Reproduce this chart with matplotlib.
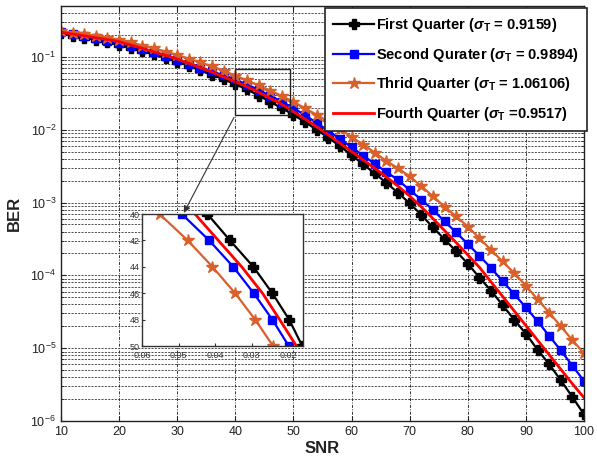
import matplotlib
matplotlib.use("Agg")
import matplotlib.pyplot as plt
from matplotlib.patches import Rectangle

plt.rcParams['font.family'] = ['Liberation Sans', 'DejaVu Sans']
plt.rcParams['mathtext.fontset'] = 'custom'
plt.rcParams['mathtext.rm'] = 'Liberation Sans'
plt.rcParams['mathtext.it'] = 'Liberation Sans:italic:bold'
plt.rcParams['mathtext.bf'] = 'Liberation Sans:bold'

snr = list(range(10, 101, 2))

ber_first = [0.210, 0.196, 0.183, 0.171, 0.158, 0.146, 0.132, 0.120, 0.108, 0.0966,
             0.0863, 0.0759, 0.0661, 0.0571, 0.0492, 0.0421, 0.0359, 0.0295, 0.0243, 0.0197,
             0.0161, 0.0127, 0.0100, 0.00776, 0.00596, 0.00447, 0.00335, 0.00251, 0.00186, 0.00136,
             9.77e-4, 6.76e-4, 4.57e-4, 3.13e-4, 2.14e-4, 1.45e-4, 9.33e-5, 6.17e-5, 3.89e-5, 2.45e-5,
             1.58e-5, 9.55e-6, 6.03e-6, 3.63e-6, 2.14e-6, 1.23e-6]
ber_second = [0.219, 0.205, 0.192, 0.179, 0.167, 0.155, 0.141, 0.127, 0.115, 0.102,
              0.0902, 0.0802, 0.0711, 0.0631, 0.0557, 0.0491, 0.0416, 0.0350, 0.0294, 0.0243,
              0.0198, 0.0158, 0.0124, 0.00966, 0.00750, 0.00575, 0.00442, 0.00339, 0.00263, 0.00204,
              0.00148, 0.00110, 7.94e-4, 5.50e-4, 3.89e-4, 2.69e-4, 1.86e-4, 1.26e-4, 8.32e-5, 5.50e-5,
              3.63e-5, 2.34e-5, 1.48e-5, 9.33e-6, 5.75e-6, 3.55e-6]
ber_third = [0.224, 0.214, 0.204, 0.194, 0.182, 0.171, 0.158, 0.143, 0.131, 0.118,
             0.106, 0.0946, 0.0839, 0.0741, 0.0646, 0.0552, 0.0475, 0.0407, 0.0345, 0.0290,
             0.0241, 0.0197, 0.0160, 0.0129, 0.0102, 0.00798, 0.00624, 0.00484, 0.00372, 0.00295,
             0.00229, 0.00168, 0.00122, 8.81e-4, 6.46e-4, 4.68e-4, 3.24e-4, 2.24e-4, 1.55e-4, 1.07e-4,
             7.24e-5, 4.68e-5, 3.09e-5, 2.00e-5, 1.29e-5, 8.51e-6]
ber_fourth = [0.218, 0.206, 0.195, 0.183, 0.173, 0.162, 0.146, 0.131, 0.117, 0.105,
              0.0933, 0.0817, 0.0711, 0.0617, 0.0531, 0.0455, 0.0391, 0.0327, 0.0270, 0.0223,
              0.0177, 0.0140, 0.0110, 0.00851, 0.00653, 0.00501, 0.00385, 0.00295, 0.00224, 0.00168,
              0.00123, 8.71e-4, 6.03e-4, 4.12e-4, 2.82e-4, 1.91e-4, 1.29e-4, 8.13e-5, 5.13e-5, 3.24e-5,
              2.04e-5, 1.29e-5, 8.13e-6, 5.13e-6, 3.24e-6, 2.09e-6]

labels = [r'First Quarter ($\sigma_\mathbf{T}$ = 0.9159)',
          r'Second Qurater ($\sigma_\mathbf{T}$ = 0.9894)',
          r'Thrid Quarter ($\sigma_\mathbf{T}$ = 1.06106)',
          r'Fourth Quarter ($\sigma_\mathbf{T}$ =0.9517)']

inset_xticks = [0.06, 0.05, 0.04, 0.03, 0.02]
inset_xticklabels = ['0.06', '0.05', '0.04', '0.03', '0.02']
inset_yticks = [40, 42, 44, 46, 48, 50]

c_black = '#000000'
c_blue = '#0000FF'
c_orange = '#D9602A'
c_red = '#FF0000'

fig = plt.figure(figsize=(5.97, 4.65), dpi=100)
ax = fig.add_axes([61/597, 1-421/465, 523/597, 415/465])

l1, = ax.semilogy(snr, ber_first, '-', color=c_black, lw=1.6, marker='P', ms=6.5, label=labels[0])
l2, = ax.semilogy(snr, ber_second, '-', color=c_blue, lw=1.6, marker='s', ms=6, label=labels[1])
l3, = ax.semilogy(snr, ber_third, '-', color=c_orange, lw=1.6, marker='*', ms=9, label=labels[2])
l4, = ax.semilogy(snr, ber_fourth, '-', color=c_red, lw=2.0, label=labels[3])

ax.set_xlim(10, 100)
ax.set_ylim(1e-6, 0.5)
ax.set_xticks(range(10, 101, 10))
ax.tick_params(which='both', direction='in', top=True, right=True, colors='#222222', labelsize=9)
ax.grid(True, which='major', axis='x', color='#333333', linestyle=(0, (3, 1.5, 1, 1.5)), lw=0.7)
ax.grid(True, which='both', axis='y', color='#333333', linestyle=(0, (2.5, 1.5)), lw=0.6)
for s in ax.spines.values():
    s.set_color('#222222')
    s.set_linewidth(1.0)
ax.set_xlabel('SNR', fontsize=12, fontweight='bold', color='#222222', labelpad=2)
ax.set_ylabel('BER', fontsize=12, fontweight='bold', color='#222222', labelpad=6)

ax.add_patch(Rectangle((40, 0.016), 9.4, 0.0684 - 0.016, fill=False, edgecolor='#222222', lw=1.0, zorder=5))

leg = ax.legend(handles=[l1, l2, l3, l4], loc='upper right',
                bbox_to_anchor=(587/597, 1-8/465), bbox_transform=fig.transFigure,
                fancybox=False, framealpha=1, edgecolor='#222222', borderaxespad=0,
                prop={'weight': 'bold', 'size': 10.5}, handlelength=2.8, labelspacing=0.8,
                borderpad=0.55, handletextpad=0.15)
leg.get_frame().set_linewidth(1.2)

# inset
axins = fig.add_axes([142/597, 1-346/465, 161/597, 132/465])
in_snr = snr[15:21]
axins.plot(ber_first[15:21], in_snr, '-', color=c_black, lw=1.6, marker='P', ms=6.5)
axins.plot(ber_second[15:21], in_snr, '-', color=c_blue, lw=1.6, marker='s', ms=6)
axins.plot(ber_third[15:21], in_snr, '-', color=c_orange, lw=1.6, marker='*', ms=9)
axins.plot(ber_fourth[15:21], in_snr, '-', color=c_red, lw=2.0)
axins.set_xlim(0.06, 0.0159)
axins.set_ylim(50, 40)
axins.set_xticks(inset_xticks)
axins.set_xticklabels(inset_xticklabels)
axins.set_yticks(inset_yticks)
axins.tick_params(direction='in', labelsize=6.5, colors='#333333', length=2.5)
axins.tick_params(axis='x', pad=3.5)
axins.tick_params(axis='y', pad=1.5)
for s in axins.spines.values():
    s.set_color('#333333')
    s.set_linewidth(1.0)

axins.annotate('', xy=(0.0489, 40.1), xycoords=axins.transData,
               xytext=(40, 0.016), textcoords=ax.transData,
               arrowprops=dict(arrowstyle='-|>', color='#333333', lw=0.8, mutation_scale=10),
               annotation_clip=False)

fig.savefig('out.png', dpi=100)
